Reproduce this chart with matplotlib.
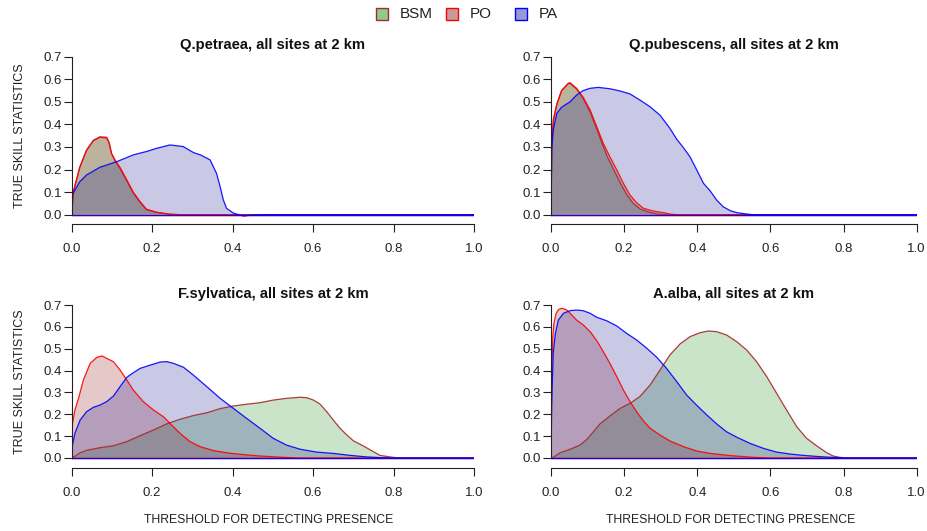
import matplotlib
matplotlib.use("Agg")
import matplotlib.pyplot as plt
from matplotlib.patches import Rectangle

plt.rcParams["font.family"] = ["Liberation Sans", "DejaVu Sans"]

W, H = 927, 531

# ---- data: true skill statistic vs. detection threshold ----
species = ["Q.petraea", "Q.pubescens", "F.sylvatica", "A.alba"]
series_names = ["BSM", "PO", "PA"]
y_ticks = [0.0, 0.1, 0.2, 0.3, 0.4, 0.5, 0.6, 0.7]
x_ticks = [0.0, 0.2, 0.4, 0.6, 0.8, 1.0]

petraea_bsm_x = [0, 0.004, 0.02, 0.037, 0.054, 0.07, 0.087, 0.093, 0.099, 0.108, 0.12, 0.137, 0.153, 0.17, 0.186, 0.211, 0.244, 0.27, 1.0]
petraea_bsm_y = [0, 0.10, 0.21, 0.285, 0.328, 0.343, 0.340, 0.318, 0.27, 0.238, 0.205, 0.150, 0.096, 0.055, 0.022, 0.010, 0.002, 0, 0]
petraea_po_x = [0, 0.004, 0.02, 0.037, 0.054, 0.07, 0.087, 0.093, 0.099, 0.108, 0.12, 0.137, 0.153, 0.17, 0.186, 0.211, 0.244, 0.27, 1.0]
petraea_po_y = [0, 0.10, 0.21, 0.287, 0.33, 0.345, 0.343, 0.32, 0.272, 0.242, 0.21, 0.154, 0.10, 0.058, 0.024, 0.011, 0.002, 0, 0]
petraea_pa_x = [0, 0.001, 0.02, 0.037, 0.07, 0.112, 0.153, 0.186, 0.211, 0.244, 0.277, 0.303, 0.32, 0.344, 0.36, 0.369, 0.377, 0.385, 0.402, 0.427, 0.452, 0.48, 1.0]
petraea_pa_y = [0, 0.087, 0.146, 0.176, 0.21, 0.235, 0.265, 0.28, 0.294, 0.309, 0.302, 0.275, 0.265, 0.243, 0.183, 0.124, 0.065, 0.028, 0.007, -0.006, -0.001, 0, 0]

pubescens_bsm_x = [0, 0.002, 0.007, 0.016, 0.029, 0.047, 0.052, 0.07, 0.088, 0.107, 0.125, 0.14, 0.154, 0.172, 0.19, 0.208, 0.225, 0.245, 0.27, 0.29, 0.31, 1.0]
pubescens_bsm_y = [0, 0.30, 0.42, 0.49, 0.55, 0.580, 0.582, 0.556, 0.515, 0.455, 0.38, 0.315, 0.257, 0.198, 0.139, 0.087, 0.05, 0.024, 0.01, 0.003, 0, 0]
pubescens_po_x = [0, 0.002, 0.006, 0.016, 0.029, 0.047, 0.052, 0.07, 0.088, 0.107, 0.125, 0.143, 0.161, 0.18, 0.198, 0.216, 0.234, 0.253, 0.28, 0.307, 0.325, 0.344, 1.0]
pubescens_po_y = [0, 0.30, 0.42, 0.49, 0.55, 0.582, 0.585, 0.56, 0.52, 0.464, 0.39, 0.316, 0.257, 0.198, 0.139, 0.087, 0.053, 0.028, 0.016, 0.009, 0.003, 0, 0]
pubescens_pa_x = [0, 0.002, 0.006, 0.016, 0.029, 0.052, 0.07, 0.088, 0.107, 0.129, 0.161, 0.189, 0.216, 0.243, 0.271, 0.298, 0.325, 0.344, 0.362, 0.38, 0.398, 0.417, 0.435, 0.453, 0.471, 0.49, 0.508, 0.535, 0.553, 1.0]
pubescens_pa_y = [0, 0.287, 0.375, 0.449, 0.476, 0.50, 0.53, 0.55, 0.56, 0.564, 0.558, 0.548, 0.535, 0.508, 0.478, 0.441, 0.383, 0.334, 0.297, 0.257, 0.20, 0.139, 0.106, 0.065, 0.035, 0.018, 0.009, 0.003, 0, 0]

sylvatica_bsm_x = [0, 0.004, 0.021, 0.037, 0.07, 0.104, 0.137, 0.17, 0.203, 0.236, 0.269, 0.302, 0.336, 0.369, 0.402, 0.435, 0.468, 0.501, 0.534, 0.568, 0.584, 0.601, 0.617, 0.634, 0.65, 0.667, 0.684, 0.7, 0.725, 0.75, 0.766, 0.791, 0.808, 1.0]
sylvatica_bsm_y = [0, 0.003, 0.024, 0.035, 0.047, 0.056, 0.075, 0.102, 0.128, 0.156, 0.177, 0.194, 0.207, 0.226, 0.238, 0.246, 0.253, 0.265, 0.273, 0.278, 0.276, 0.265, 0.247, 0.212, 0.174, 0.136, 0.105, 0.079, 0.055, 0.029, 0.012, 0.005, 0.001, 0]
sylvatica_po_x = [0, 0.002, 0.008, 0.017, 0.029, 0.046, 0.062, 0.075, 0.087, 0.104, 0.12, 0.137, 0.153, 0.178, 0.203, 0.228, 0.244, 0.269, 0.294, 0.319, 0.352, 0.385, 0.418, 0.468, 0.526, 0.568, 1.0]
sylvatica_po_y = [0, 0.159, 0.22, 0.273, 0.357, 0.433, 0.46, 0.467, 0.456, 0.44, 0.403, 0.357, 0.311, 0.258, 0.22, 0.189, 0.159, 0.113, 0.075, 0.052, 0.034, 0.024, 0.017, 0.009, 0.003, 0, 0]
sylvatica_pa_x = [0, 0.001, 0.008, 0.021, 0.037, 0.054, 0.07, 0.087, 0.104, 0.12, 0.137, 0.153, 0.17, 0.195, 0.22, 0.236, 0.253, 0.278, 0.302, 0.336, 0.369, 0.402, 0.435, 0.468, 0.501, 0.534, 0.568, 0.609, 0.65, 0.692, 0.733, 0.775, 0.8, 1.0]
sylvatica_pa_y = [0, 0.052, 0.113, 0.174, 0.212, 0.232, 0.242, 0.258, 0.284, 0.326, 0.369, 0.39, 0.41, 0.425, 0.439, 0.441, 0.433, 0.415, 0.38, 0.326, 0.273, 0.227, 0.181, 0.136, 0.09, 0.059, 0.04, 0.027, 0.021, 0.012, 0.005, 0.001, 0, 0]

alba_bsm_x = [0, 0.006, 0.025, 0.052, 0.079, 0.098, 0.116, 0.134, 0.161, 0.189, 0.216, 0.243, 0.271, 0.298, 0.325, 0.353, 0.38, 0.407, 0.43, 0.453, 0.48, 0.508, 0.535, 0.562, 0.59, 0.617, 0.644, 0.672, 0.699, 0.727, 0.754, 0.772, 0.79, 0.809, 1.0]
alba_bsm_y = [0, 0.003, 0.024, 0.04, 0.059, 0.085, 0.12, 0.156, 0.192, 0.227, 0.25, 0.281, 0.334, 0.402, 0.471, 0.522, 0.555, 0.573, 0.581, 0.578, 0.563, 0.532, 0.494, 0.441, 0.372, 0.296, 0.22, 0.143, 0.09, 0.055, 0.024, 0.009, 0.003, 0, 0]
alba_po_x = [0, 0.002, 0.005, 0.008, 0.014, 0.021, 0.03, 0.043, 0.057, 0.07, 0.088, 0.107, 0.125, 0.143, 0.161, 0.18, 0.198, 0.216, 0.234, 0.253, 0.271, 0.298, 0.325, 0.362, 0.398, 0.435, 0.49, 0.553, 0.6, 1.0]
alba_po_y = [0, 0.40, 0.555, 0.616, 0.662, 0.68, 0.685, 0.677, 0.654, 0.631, 0.609, 0.578, 0.537, 0.487, 0.433, 0.372, 0.311, 0.258, 0.212, 0.169, 0.136, 0.105, 0.078, 0.052, 0.032, 0.021, 0.011, 0.003, 0, 0]
alba_pa_x = [0, 0.002, 0.006, 0.012, 0.02, 0.034, 0.052, 0.07, 0.088, 0.107, 0.125, 0.152, 0.18, 0.207, 0.234, 0.262, 0.289, 0.316, 0.344, 0.371, 0.398, 0.426, 0.453, 0.48, 0.508, 0.544, 0.581, 0.617, 0.654, 0.69, 0.736, 0.781, 0.818, 1.0]
alba_pa_y = [0, 0.25, 0.479, 0.57, 0.631, 0.662, 0.674, 0.677, 0.674, 0.662, 0.644, 0.628, 0.604, 0.57, 0.54, 0.502, 0.461, 0.41, 0.349, 0.288, 0.242, 0.197, 0.156, 0.12, 0.095, 0.067, 0.044, 0.027, 0.018, 0.012, 0.006, 0.002, 0, 0]

panel_data = [
    [(petraea_bsm_x, petraea_bsm_y), (petraea_po_x, petraea_po_y), (petraea_pa_x, petraea_pa_y)],
    [(pubescens_bsm_x, pubescens_bsm_y), (pubescens_po_x, pubescens_po_y), (pubescens_pa_x, pubescens_pa_y)],
    [(sylvatica_bsm_x, sylvatica_bsm_y), (sylvatica_po_x, sylvatica_po_y), (sylvatica_pa_x, sylvatica_pa_y)],
    [(alba_bsm_x, alba_bsm_y), (alba_po_x, alba_po_y), (alba_pa_x, alba_pa_y)],
]

# ---- styling ----
fill_colors = [(0.0, 0.5, 0.0, 0.21), (0.53, 0.0, 0.0, 0.21), (0.0, 0.0, 0.53, 0.21)]
edge_colors = ["#a52a2a", "#ff0000", "#0000ff"]
legend_fill = ["#8fc98f", "#c89a9a", "#9a9ad2"]
ink = "#222222"

fig = plt.figure(figsize=(W / 100, H / 100), dpi=100)

# panel frames in pixels: left, right, y-pixel of 0.0, y-pixel of 0.7, axis-line pixel, top pixel
frames = [
    (71.7, 474.0, 214.7, 56.7, 224.0, 50.0),
    (551.0, 916.7, 214.7, 56.7, 224.0, 50.0),
    (71.7, 474.0, 458.0, 305.0, 467.7, 299.0),
    (551.0, 916.7, 458.0, 305.0, 467.7, 299.0),
]
title_y = [44.5, 44.5, 294.0, 294.0]

for i, (left, right, p0, p7, pb, pt) in enumerate(frames):
    scale = (p0 - p7) / 0.7
    ymin = -(pb - p0) / scale
    ymax = (p0 - pt) / scale
    ax = fig.add_axes([left / W, 1 - pb / H, (right - left) / W, (pb - pt) / H])
    ax.set_xlim(0, 1)
    ax.set_ylim(ymin, ymax)
    ax.patch.set_alpha(0)

    # translucent areas first, outlines on top
    for (xs, ys), fc in zip(panel_data[i], fill_colors):
        ax.fill(xs, ys, facecolor=fc, edgecolor="none", zorder=1)
    for (xs, ys), ec in zip(panel_data[i], edge_colors):
        ax.plot(xs, ys, color=ec, linewidth=0.9, alpha=0.9, zorder=2)
        ax.plot([xs[0], xs[-1]], [0, 0], color=ec, linewidth=0.9, alpha=0.9, zorder=2)

    for s in ["top", "right"]:
        ax.spines[s].set_visible(False)
    ax.spines["left"].set_bounds(0, 0.7)
    ax.spines["bottom"].set_bounds(0, 1)
    for s in ["left", "bottom"]:
        ax.spines[s].set_linewidth(0.8)
        ax.spines[s].set_color(ink)

    ax.set_yticks(y_ticks)
    ax.set_yticklabels([f"{v:.1f}" for v in y_ticks])
    ax.set_xticks(x_ticks)
    ax.set_xticklabels([f"{v:.1f}" for v in x_ticks])
    ax.tick_params(axis="y", direction="out", length=6, width=0.8, pad=1.2,
                   labelsize=9.5, color=ink, labelcolor=ink)
    ax.tick_params(axis="x", direction="out", length=6, width=0.8, pad=8.0,
                   labelsize=9.5, color=ink, labelcolor=ink)

    ax.text(0.5, 1 - (title_y[i] - pt) / (pb - pt), f"{species[i]}, all sites at 2 km",
            transform=ax.transAxes, ha="center", va="center",
            fontsize=10.6, fontweight="bold", color="#111111")

    if i % 2 == 0:
        ax.set_ylabel("TRUE SKILL STATISTICS", fontsize=9, color=ink, va="center")
        ax.yaxis.set_label_coords((20.5 - left) / (right - left), 1 - ((p0 + p7) / 2 - pt) / (pb - pt))
    if i >= 2:
        ax.set_xlabel("THRESHOLD FOR DETECTING PRESENCE", fontsize=8.8, color=ink, va="center")
        ax.xaxis.set_label_coords(0.49, 1 - (520 - pt) / (pb - pt))

# legend across the top
sq_left = [376, 446, 515]
txt_left = [400, 470, 539]
for name, fc, ec, sx, tx in zip(series_names, legend_fill, edge_colors, sq_left, txt_left):
    fig.patches.append(Rectangle((sx / W, 1 - 19.5 / H), 11.5 / W, 11.5 / H,
                                 transform=fig.transFigure, facecolor=fc,
                                 edgecolor=ec, linewidth=1.0))
    fig.text(tx / W, 1 - 14 / H, name, ha="left", va="center", fontsize=11, color=ink)

fig.savefig("out.png", dpi=100)
